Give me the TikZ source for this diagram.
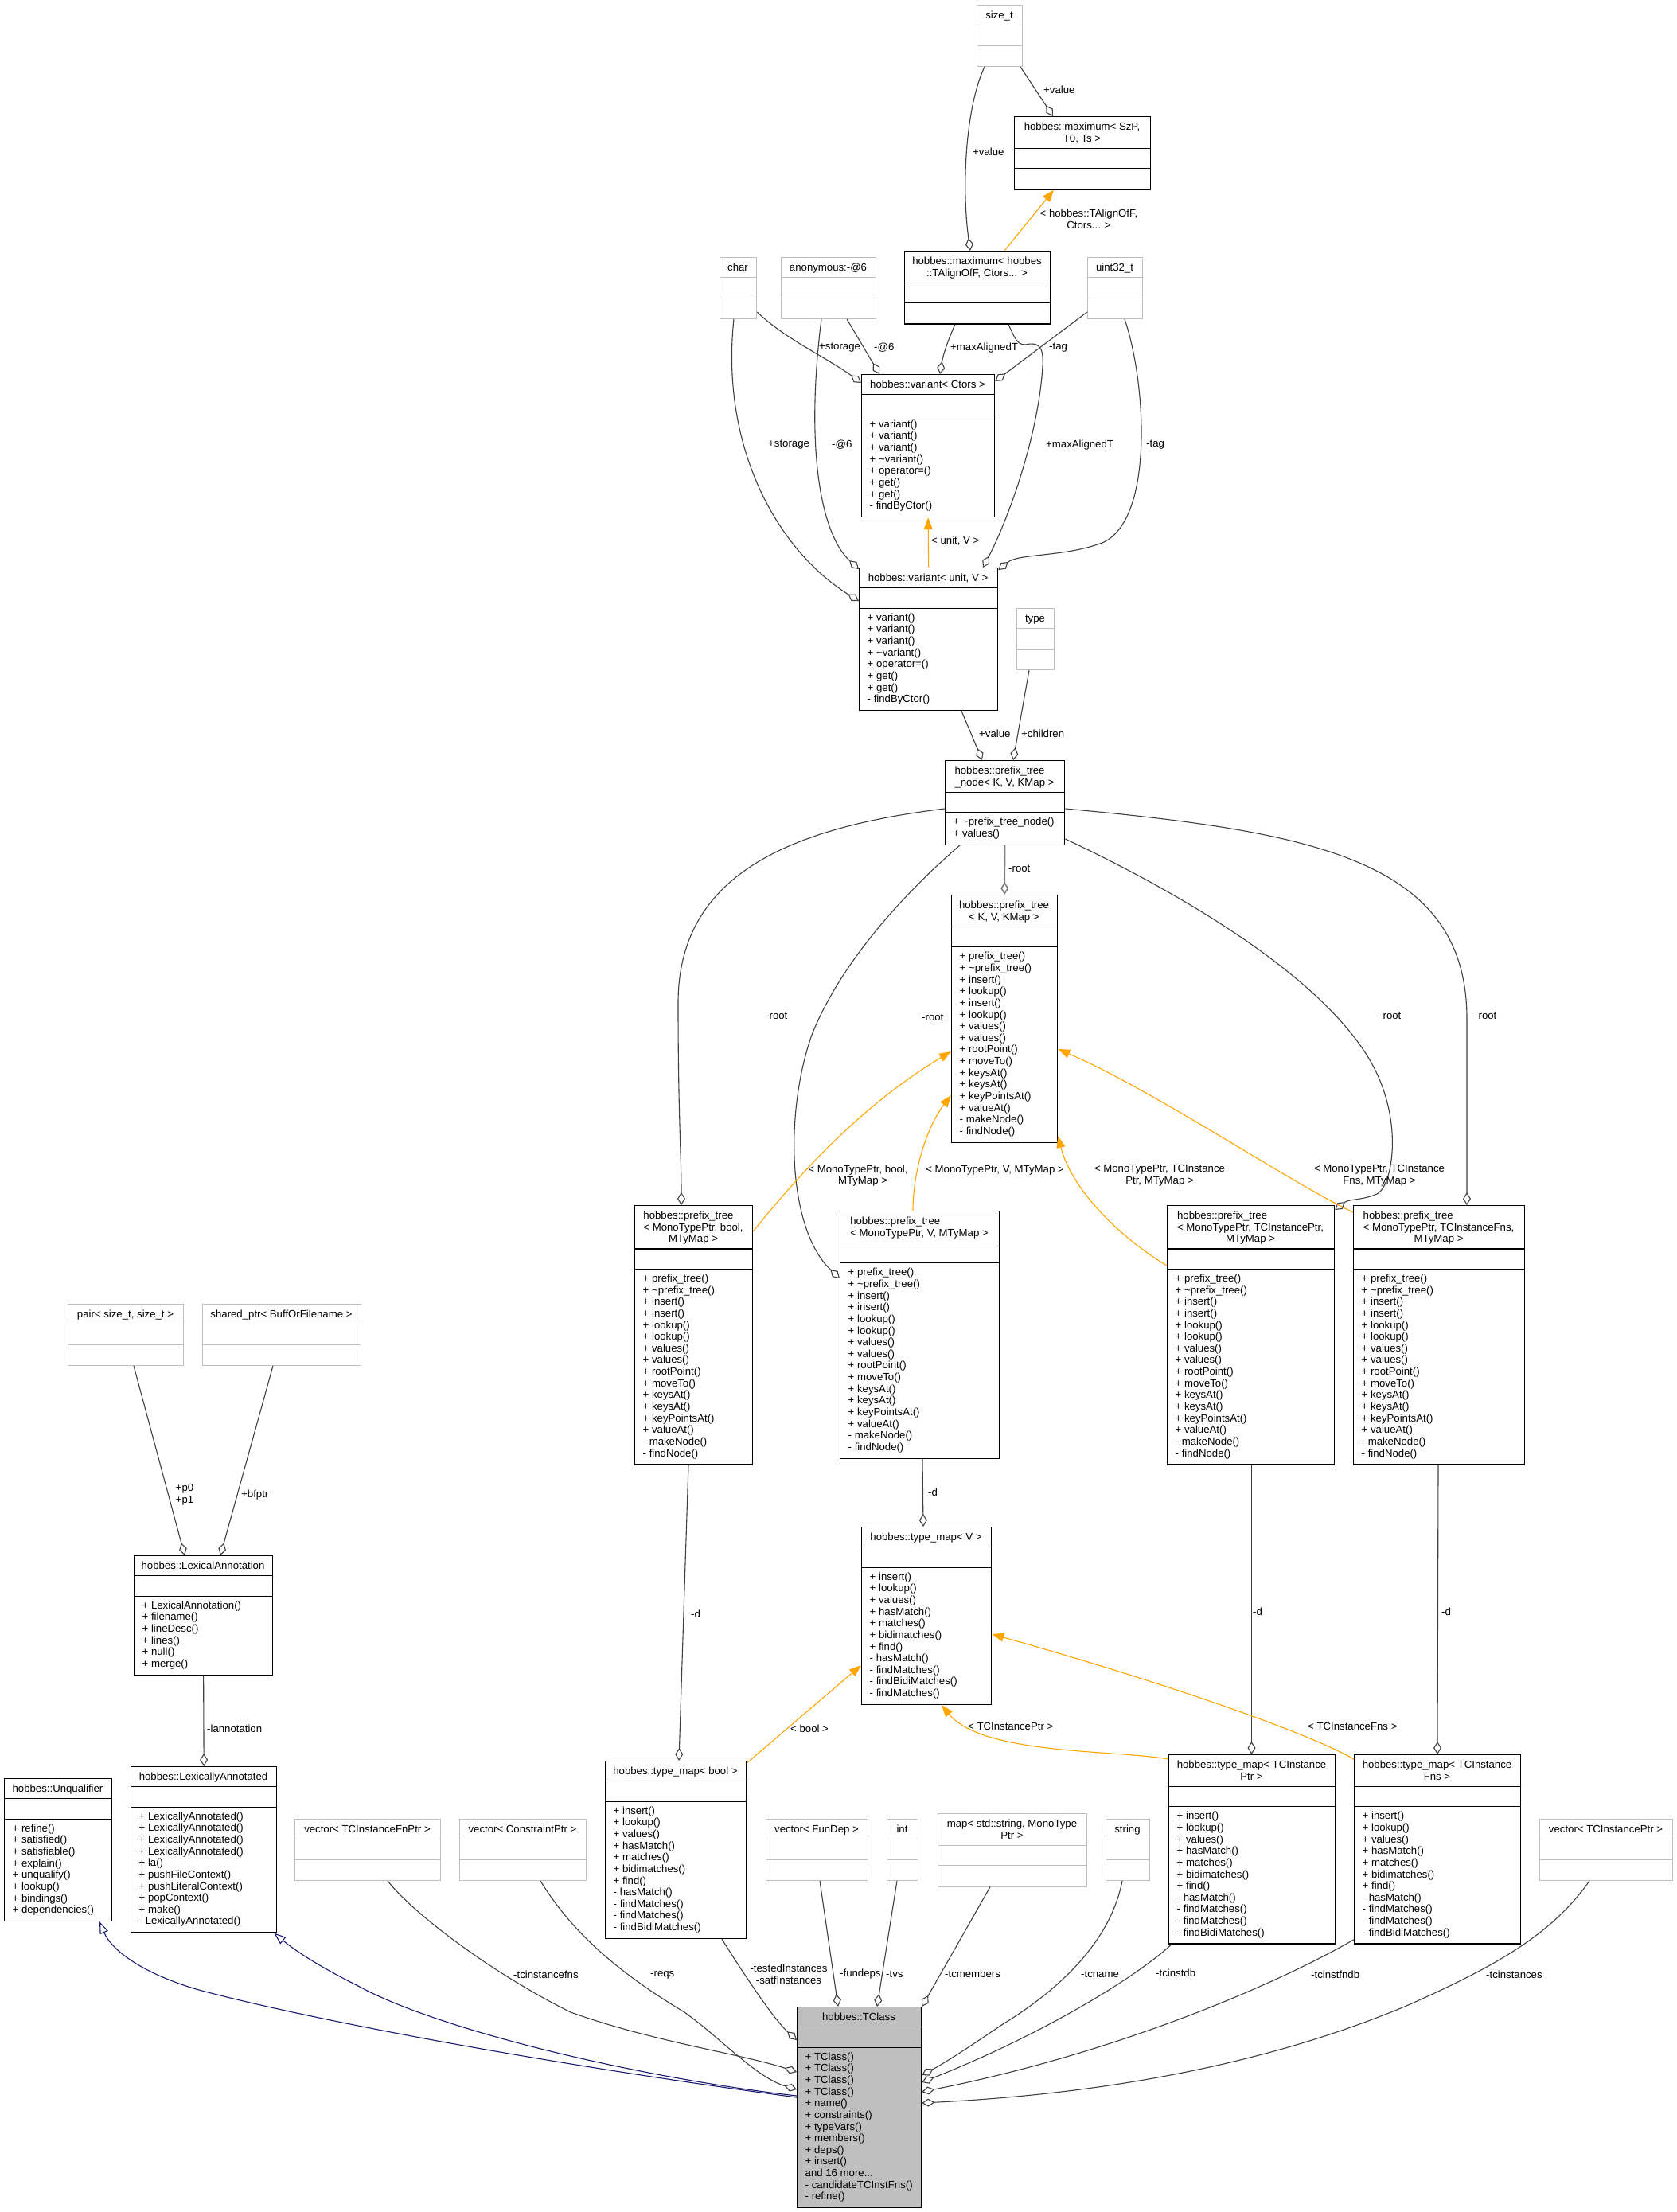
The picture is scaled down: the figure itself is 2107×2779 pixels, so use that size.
\documentclass[tikz,border=0pt]{standalone}
\usepackage{fontspec}
\setmainfont{Liberation Sans}
\usetikzlibrary{arrows.meta,calc}
\definecolor{edg}{HTML}{404040}
\definecolor{gbd}{HTML}{BFBFBF}
\definecolor{org}{HTML}{FFA500}
\definecolor{mblue}{HTML}{191970}
\newcommand\dfont{\fontsize{13.2}{14.65}\selectfont}
\newcommand\lastc[1]{\multicolumn{1}{@{}c@{}}{#1}}
\newcommand\tld{\textasciitilde}
\newcommand\ptmeth{+ prefix\_tree()\\+ \tld prefix\_tree()\\+ insert()\\+ insert()\\+ lookup()\\+ lookup()\\+ values()\\+ values()\\+ rootPoint()\\+ moveTo()\\+ keysAt()\\+ keysAt()\\+ keyPointsAt()\\+ valueAt()\\- makeNode()\\- findNode()}
\newcommand\tmmeth{+ insert()\\+ lookup()\\+ values()\\+ hasMatch()\\+ matches()\\+ bidimatches()\\+ find()\\- hasMatch()\\- findMatches()\\- findMatches()\\- findBidiMatches()}
\newcommand\varmeth{+ variant()\\+ variant()\\+ variant()\\+ \tld variant()\\+ operator=()\\+ get()\\+ get()\\- findByCtor()}
\newcommand\umlcls[9][]{%
  \pgfmathsetmacro\hA{11+14.65*#6}%
  \pgfmathsetmacro\hC{#8==0 ? 25.5 : 10.5+14.65*#8}%
  \pgfmathsetmacro\hT{\hA+25.5+\hC}%
  \node[clsbox,#1,minimum width=#5pt,minimum height=\hT pt,anchor=north west] (#2) at (#3,#4) {};
  \draw[clsline,#1] (#3,#4+\hA) -- ++(#5,0) (#3,#4+\hA+25.5) -- ++(#5,0);
  \node[anchor=north] (#2h) at (#3+#5/2,#4+7) {\begin{tabular}{@{}l@{}}#7\end{tabular}};
  \ifnum#8>0 \node[anchor=north west] (#2m) at (#3+10.5,#4+\hA+25.5+5.5) {\begin{tabular}{@{}l@{}}#9\end{tabular}};\fi
}
\begin{document}
\begin{tikzpicture}[x=1pt,y=-1pt,
  every node/.style={font=\dfont,inner sep=0pt,text=black},
  clsbox/.style={draw=black,line width=1.3pt,fill=white},
  clsline/.style={draw=black,line width=1.3pt},
  gray box/.style={draw=gbd},
  tcfill/.style={fill=gbd},
  agg/.style={draw=edg,line width=1.1pt,-{Diamond[length=16pt,width=10pt,fill=white]}},
  tmpl/.style={draw=org,line width=1.1pt,-{Triangle[length=15pt,width=11pt,fill=org]}},
  inh/.style={draw=mblue,line width=1.1pt,-{Triangle[open,length=15pt,width=11pt,fill=white]}},
  lbl/.style={anchor=west},
  lblc/.style={align=center}]
\fill[white] (0,0) rectangle (2107,2779);
\path[use as bounding box] (0,0) rectangle (2107,2779);

% ---------- classes ----------
\umlcls[gray box]{sizet}{1227}{6}{57}{1}{size\_t}{0}{}
\umlcls{maxSzP}{1274}{146}{171}{2}{hobbes::maximum< SzP,\\\lastc{T0, Ts >}}{0}{}
\umlcls{maxT}{1136}{315}{183}{2}{hobbes::maximum< hobbes\\\lastc{::TAlignOfF, Ctors... >}}{0}{}
\umlcls[gray box]{char}{904}{323}{46}{1}{char}{0}{}
\umlcls[gray box]{anon}{981}{323}{119}{1}{anonymous:-@6}{0}{}
\umlcls[gray box]{uint32}{1366}{323}{69}{1}{uint32\_t}{0}{}
\umlcls{varC}{1082}{470}{167}{1}{hobbes::variant< Ctors >}{8}{\varmeth}
\umlcls{varU}{1079}{713}{174}{1}{hobbes::variant< unit, V >}{8}{\varmeth}
\umlcls[gray box]{type}{1277}{764}{47}{1}{type}{0}{}
\umlcls{ptn}{1187}{955}{150}{2}{hobbes::prefix\_tree\\\lastc{\_node< K, V, KMap >}}{2}{+ \tld prefix\_tree\_node()\\+ values()}
\umlcls{pt}{1195}{1124}{133}{2}{hobbes::prefix\_tree\\\lastc{< K, V, KMap >}}{16}{+ prefix\_tree()\\+ \tld prefix\_tree()\\+ insert()\\+ lookup()\\+ insert()\\+ lookup()\\+ values()\\+ values()\\+ rootPoint()\\+ moveTo()\\+ keysAt()\\+ keysAt()\\+ keyPointsAt()\\+ valueAt()\\- makeNode()\\- findNode()}
\umlcls{ptB}{797}{1514}{148}{3}{hobbes::prefix\_tree\\< MonoTypePtr, bool,\\\lastc{MTyMap >}}{16}{\ptmeth}
\umlcls{ptV}{1055}{1521}{200}{2}{hobbes::prefix\_tree\\\lastc{< MonoTypePtr, V, MTyMap >}}{16}{\ptmeth}
\umlcls{ptP}{1466}{1514}{210}{3}{hobbes::prefix\_tree\\< MonoTypePtr, TCInstancePtr,\\\lastc{MTyMap >}}{16}{\ptmeth}
\umlcls{ptF}{1700}{1514}{215}{3}{hobbes::prefix\_tree\\< MonoTypePtr, TCInstanceFns,\\\lastc{MTyMap >}}{16}{\ptmeth}
\umlcls[gray box]{pair}{85}{1638}{145}{1}{pair< size\_t, size\_t >}{0}{}
\umlcls[gray box]{shptr}{254}{1638}{199}{1}{shared\_ptr< BuffOrFilename >}{0}{}
\umlcls{LexAnn}{168}{1954}{174}{1}{hobbes::LexicalAnnotation}{6}{+ LexicalAnnotation()\\+ filename()\\+ lineDesc()\\+ lines()\\+ null()\\+ merge()}
\umlcls{tmV}{1082}{1918}{163}{1}{hobbes::type\_map< V >}{11}{+ insert()\\+ lookup()\\+ values()\\+ hasMatch()\\+ matches()\\+ bidimatches()\\+ find()\\- hasMatch()\\- findMatches()\\- findBidiMatches()\\- findMatches()}
\umlcls{tmB}{760}{2212}{177}{1}{hobbes::type\_map< bool >}{11}{\tmmeth}
\umlcls{tmP}{1468}{2204}{209}{2}{hobbes::type\_map< TCInstance\\\lastc{Ptr >}}{11}{\tmmeth}
\umlcls{tmF}{1701}{2204}{209}{2}{hobbes::type\_map< TCInstance\\\lastc{Fns >}}{11}{\tmmeth}
\umlcls{Unq}{5}{2234}{135}{1}{hobbes::Unqualifier}{8}{+ refine()\\+ satisfied()\\+ satisfiable()\\+ explain()\\+ unqualify()\\+ lookup()\\+ bindings()\\+ dependencies()}
\umlcls{LexA}{164}{2219}{183}{1}{hobbes::LexicallyAnnotated}{10}{+ LexicallyAnnotated()\\+ LexicallyAnnotated()\\+ LexicallyAnnotated()\\+ LexicallyAnnotated()\\+ la()\\+ pushFileContext()\\+ pushLiteralContext()\\+ popContext()\\+ make()\\- LexicallyAnnotated()}
\umlcls[gray box]{vFn}{370}{2285}{183}{1}{vector< TCInstanceFnPtr >}{0}{}
\umlcls[gray box]{vC}{577}{2285}{159}{1}{vector< ConstraintPtr >}{0}{}
\umlcls[gray box]{vFD}{962}{2285}{128}{1}{vector< FunDep >}{0}{}
\umlcls[gray box]{int}{1114}{2285}{39}{1}{int}{0}{}
\umlcls[gray box]{map}{1178}{2278}{187}{2}{map< std::string, MonoType\\\lastc{Ptr >}}{0}{}
\umlcls[gray box]{string}{1389}{2285}{55}{1}{string}{0}{}
\umlcls[gray box]{vP}{1934}{2285}{167}{1}{vector< TCInstancePtr >}{0}{}
\umlcls[tcfill]{TC}{1001}{2521}{156}{1}{hobbes::TClass}{13}{+ TClass()\\+ TClass()\\+ TClass()\\+ TClass()\\+ name()\\+ constraints()\\+ typeVars()\\+ members()\\+ deps()\\+ insert()\\and 16 more...\\- candidateTCInstFns()\\- refine()}

% ---------- connectors ----------
\draw[agg] ($(sizet.south west)+(55,0)$) -- ($(maxSzP.north west)+(49,0)$);
\draw[agg] ($(sizet.south west)+(10,0)$) .. controls (1213,135) and (1208,235) .. ($(maxT.north west)+(83,0)$);
\draw[tmpl] ($(maxT.north west)+(126,0)$) -- ($(maxSzP.south west)+(50,0)$);
\draw[agg] ($(char.south east)+(0,-9)$) .. controls (985,425) and (1040,450) .. ($(varC.north west)+(0,11)$);
\draw[agg] ($(char.south west)+(18,0)$) .. controls (905,560) and (975,690) .. ($(varU.north west)+(0,42)$);
\draw[agg] ($(anon.south west)+(83,0)$) -- ($(varC.north west)+(23,0)$);
\draw[agg] ($(anon.south west)+(51,0)$) .. controls (1012,560) and (1030,670) .. ($(varU.north west)+(0,2)$);
\draw[agg] ($(maxT.south west)+(64,0)$) .. controls (1192,425) and (1185,445) .. ($(varC.north west)+(99,0)$);
\draw[agg] ($(maxT.south west)+(131,0)$) .. controls (1275,425) and (1278,433) .. (1288,433) .. controls (1302,430) and (1312,432) .. (1310,460) .. controls (1305,545) and (1268,650) .. ($(varU.north west)+(156,0)$);
\draw[agg] ($(uint32.south west)+(0,-9)$) -- ($(varC.north east)+(0,9)$);
\draw[agg] ($(uint32.south west)+(47,0)$) .. controls (1440,480) and (1450,650) .. (1387,681) .. controls (1340,700) and (1280,695) .. ($(varU.north east)+(0,3)$);
\draw[tmpl] (varU.north) -- (varC.south);
\draw[agg] ($(varU.south west)+(129,0)$) -- ($(ptn.north west)+(47,0)$);
\draw[agg] ($(type.south west)+(16,0)$) -- ($(ptn.north west)+(86,0)$);
\draw[agg,draw=gray,line width=1.6pt] (ptn.south) -- (pt.north);
\draw[agg] ($(ptn.west)+(0,7.5)$) .. controls (990,1040) and (852,1100) .. (852,1260) .. controls (852,1400) and (856,1450) .. ($(ptB.north west)+(59,0)$);
\draw[agg] ($(ptn.south west)+(19,0)$) .. controls (1150,1110) and (1060,1200) .. (1020,1300) .. controls (985,1400) and (990,1545) .. ($(ptV.north west)+(0,85)$);
\draw[agg] ($(ptn.east)+(0,7.5)$) .. controls (1650,1045) and (1843,1080) .. (1843,1280) -- ($(ptF.north west)+(143,0)$);
\draw[agg] ($(ptn.south east)+(0,-8)$) .. controls (1500,1130) and (1660,1230) .. (1720,1330) .. controls (1765,1405) and (1750,1490) .. (1730,1500) .. controls (1712,1508) and (1695,1506) .. ($(ptP.north east)+(0,6)$);
\draw[tmpl] ($(ptB.north east)+(0,33)$) .. controls (1000,1480) and (1080,1390) .. ($(pt.north west)+(0,197)$);
\draw[tmpl] ($(ptV.north west)+(92,0)$) .. controls (1147,1470) and (1165,1415) .. ($(pt.north west)+(0,252)$);
\draw[tmpl] ($(ptP.north west)+(0,76)$) .. controls (1400,1550) and (1345,1490) .. ($(pt.south east)+(0,-9)$);
\draw[tmpl] ($(ptF.north west)+(0,9)$) .. controls (1620,1485) and (1450,1370) .. ($(pt.north east)+(0,194)$);
\draw[agg] ($(ptB.south west)+(68,0)$) -- ($(tmB.north west)+(93,0)$);
\draw[agg] ($(ptV.south west)+(104,0)$) -- ($(tmV.north west)+(78,0)$);
\draw[agg] ($(ptP.south west)+(106.5,0)$) -- ($(tmP.north west)+(104.5,0)$);
\draw[agg] ($(ptF.south west)+(107,0)$) -- ($(tmF.north west)+(105,0)$);
\draw[tmpl] ($(tmB.north east)+(0,3)$) -- ($(tmV.north west)+(0,174)$);
\draw[tmpl] ($(tmP.north west)+(0,6)$) .. controls (1400,2198) and (1235,2205) .. ($(tmV.south west)+(101,0)$);
\draw[tmpl] ($(tmF.north west)+(0,6)$) .. controls (1640,2175) and (1450,2110) .. ($(tmV.north east)+(0,135)$);
\draw[agg] ($(pair.south west)+(83,0)$) -- ($(LexAnn.north west)+(64,0)$);
\draw[agg] ($(shptr.south west)+(89,0)$) -- ($(LexAnn.north west)+(109,0)$);
\draw[agg] (LexAnn.south) -- (LexA.north);
\draw[inh] ($(TC.north west)+(0,114)$) .. controls (700,2595) and (400,2540) .. (250,2500) .. controls (180,2480) and (140,2450) .. ($(Unq.south west)+(120,0)$);
\draw[inh] ($(TC.north west)+(0,112)$) .. controls (800,2610) and (550,2550) .. (450,2495) .. controls (400,2470) and (370,2450) .. ($(LexA.south east)+(-4,0)$);
\draw[agg] ($(tmB.south west)+(147,0)$) .. controls (925,2465) and (970,2535) .. ($(TC.north west)+(0,42)$);
\draw[agg] ($(vFn.south west)+(117,0)$) .. controls (520,2405) and (620,2480) .. (717,2528) .. controls (820,2565) and (930,2580) .. ($(TC.north west)+(0,82)$);
\draw[agg] ($(vC.south west)+(102,0)$) .. controls (720,2430) and (780,2480) .. (860,2528) .. controls (905,2560) and (950,2610) .. ($(TC.north west)+(0,104)$);
\draw[agg] ($(vFD.south west)+(68,0)$) -- ($(TC.north west)+(52,0)$);
\draw[agg] ($(int.south west)+(13,0)$) -- ($(TC.north west)+(101,0)$);
\draw[agg] ($(map.south west)+(66,0)$) -- (TC.north east);
\draw[agg] ($(string.south west)+(21,0)$) .. controls (1395,2440) and (1330,2500) .. (1260,2543) .. controls (1220,2570) and (1190,2590) .. ($(TC.north east)+(0,86)$);
\draw[agg] ($(tmP.south west)+(4,0)$) .. controls (1420,2490) and (1300,2560) .. ($(TC.north east)+(0,95)$);
\draw[agg] ($(tmF.south west)+(0,-6)$) .. controls (1600,2495) and (1400,2580) .. ($(TC.north east)+(0,107)$);
\draw[agg] ($(vP.south west)+(63,0)$) .. controls (1950,2430) and (1880,2470) .. (1767,2520) .. controls (1600,2590) and (1400,2630) .. ($(TC.north east)+(0,121)$);

% ---------- connector labels ----------
\node[lbl] (l1) at (1311,113) {+value};
\node[lbl] (l2) at (1222,191) {+value};
\node[lblc] (l3) at (1368,275) {< hobbes::TAlignOfF,\\Ctors... >};
\node[lbl] (l4) at (1029,437) {+storage};
\node[lbl] (l5) at (1098,437) {-@6};
\node[lbl] (l6) at (1194,437) {+maxAlignedT};
\node[lbl] (l7) at (1318,437) {-tag};
\node[lbl] (l8) at (965,559) {+storage};
\node[lbl] (l9) at (1045,559) {-@6};
\node[lbl] (l10) at (1314,559) {+maxAlignedT};
\node[lbl] (l11) at (1440,559) {-tag};
\node[lbl] (l12) at (1170,680) {< unit, V >};
\node[lbl] (l13) at (1230,922) {+value};
\node[lbl] (l14) at (1283,922) {+children};
\node[lbl] (l15) at (1267,1091) {-root};
\node[lbl] (l16) at (962,1276) {-root};
\node[lbl] (l17) at (1158,1278) {-root};
\node[lbl] (l18) at (1733,1276) {-root};
\node[lbl] (l19) at (1853,1276) {-root};
\node[lblc] (l20) at (1078,1477) {< MonoTypePtr, bool,\\\hspace*{12pt}MTyMap >};
\node[lblc] (l21) at (1250,1470) {< MonoTypePtr, V, MTyMap >};
\node[lblc] (l22) at (1457,1477) {< MonoTypePtr, TCInstance\\Ptr, MTyMap >};
\node[lblc] (l23) at (1733,1477) {< MonoTypePtr, TCInstance\\Fns, MTyMap >};
\node[lbl] (l24) at (1166,1875) {-d};
\node[lbl] (l25) at (868,2028) {-d};
\node[lbl] (l26) at (1574,2025) {-d};
\node[lbl] (l27) at (1811,2025) {-d};
\node[lbl] (l28) at (993,2172) {< bool >};
\node[lbl] (l29) at (1216,2169) {< TCInstancePtr >};
\node[lbl] (l30) at (1643,2169) {< TCInstanceFns >};
\node[lblc] (l31) at (232,1878) {+p0\\+p1};
\node[lbl] (l32) at (303,1878) {+bfptr};
\node[lbl] (l33) at (260,2172) {-lannotation};
\node[lbl] (l34) at (645,2481) {-tcinstancefns};
\node[lbl] (l35) at (817,2481) {-reqs};
\node[lblc] (l36) at (991,2480) {-testedInstances\\-satfInstances};
\node[lbl] (l37) at (1055,2480) {-fundeps};
\node[lbl] (l38) at (1113,2480) {-tvs};
\node[lbl] (l39) at (1187,2480) {-tcmembers};
\node[lbl] (l40) at (1358,2480) {-tcname};
\node[lbl] (l41) at (1452,2479) {-tcinstdb};
\node[lbl] (l42) at (1647,2481) {-tcinstfndb};
\node[lbl] (l43) at (1867,2481) {-tcinstances};
\end{tikzpicture}
\end{document}
